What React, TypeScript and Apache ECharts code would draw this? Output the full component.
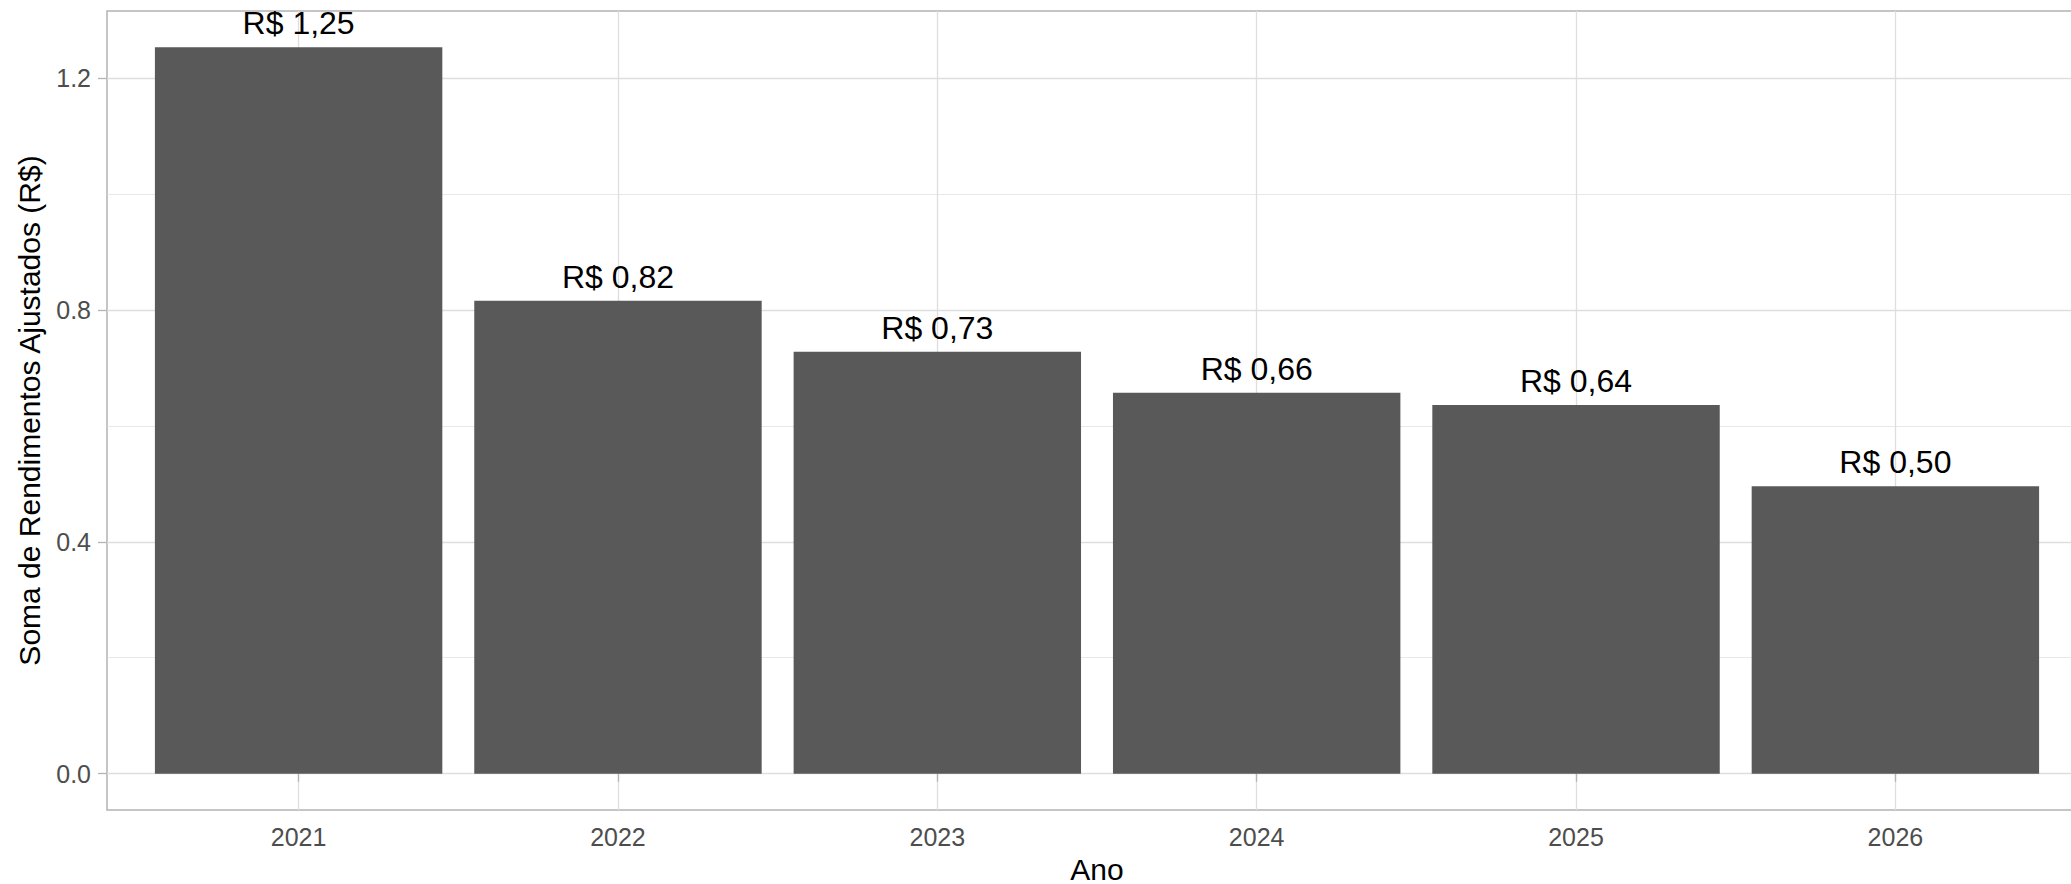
import React, { useEffect, useRef } from "react";
import * as echarts from "echarts";

// Annual sums of adjusted yields (R$)
const anos = ["2021", "2022", "2023", "2024", "2025", "2026"];
const rendimentos = [1.253, 0.816, 0.728, 0.657, 0.636, 0.496];

// Y axis breaks (major and minor grid lines)
const yMajorTicks = [0, 0.4, 0.8, 1.2];
const yMinorTicks = [0.2, 0.6, 1.0];

const FONT = "'Liberation Sans', Arial, Helvetica, sans-serif";

const WIDTH = 2071;
const HEIGHT = 884;

export default function App() {
  const ref = useRef<HTMLDivElement>(null);

  useEffect(() => {
    if (!ref.current) return;
    const chart = echarts.init(ref.current, undefined, { renderer: "svg" });

    // 5% padding of the data range on both ends of the value scale
    const top = Math.max(...rendimentos);
    const yMin = -0.05 * top;
    const yMax = 1.05 * top;

    // Panel box; the discrete axis keeps 0.6 of a band free on each side,
    // so the bar grid is inset by 0.1 band from the panel edges.
    const panelLeft = 107;
    const panelRight = -16;
    const panelTop = 11;
    const panelBottom = 74;
    const panelWidth = WIDTH - panelLeft - panelRight;
    const inset = (panelWidth * 0.1) / (anos.length + 0.2);

    chart.setOption({
      animation: false,
      backgroundColor: "#ffffff",
      textStyle: { fontFamily: FONT },
      grid: [
        {
          left: panelLeft,
          right: panelRight,
          top: panelTop,
          bottom: panelBottom,
          containLabel: false,
          outerBoundsMode: "none",
          show: true,
          borderColor: "#B3B3B3",
          borderWidth: 1.5,
          backgroundColor: "transparent",
        },
        {
          left: panelLeft + inset,
          right: panelRight + inset,
          top: panelTop,
          bottom: panelBottom,
          containLabel: false,
          outerBoundsMode: "none",
        },
      ],
      xAxis: [
        {
          gridIndex: 0,
          type: "value",
          min: 0,
          max: 1,
          show: false,
        },
        {
          gridIndex: 1,
          type: "category",
          data: anos,
          name: "Ano",
          nameLocation: "middle",
          nameGap: 46,
          nameTextStyle: {
            fontSize: 30,
            lineHeight: 26,
            color: "#000000",
            fontFamily: FONT,
          },
          axisLine: { show: false },
          axisTick: {
            show: true,
            alignWithLabel: true,
            length: 8,
            lineStyle: { color: "#B3B3B3", width: 1.3 },
          },
          axisLabel: {
            fontSize: 25,
            color: "#4D4D4D",
            margin: 14,
            fontFamily: FONT,
          },
          splitLine: {
            show: true,
            alignWithLabel: true,
            lineStyle: { color: "#DEDEDE", width: 1.3 },
          },
        },
      ],
      yAxis: [
        {
          gridIndex: 0,
          type: "value",
          min: yMin,
          max: yMax,
          name: "Soma de Rendimentos Ajustados (R$)",
          nameLocation: "middle",
          nameGap: 63,
          nameRotate: 90,
          nameTextStyle: { fontSize: 30, color: "#000000", fontFamily: FONT },
          axisLine: { show: false },
          axisTick: {
            show: true,
            length: 9,
            customValues: yMajorTicks,
            lineStyle: { color: "#B3B3B3", width: 1.3 },
          },
          axisLabel: {
            customValues: yMajorTicks,
            fontSize: 25,
            color: "#4D4D4D",
            margin: 16,
            fontFamily: FONT,
            formatter: (v: number) => v.toFixed(1),
          },
          splitLine: {
            show: true,
            lineStyle: { color: "#DEDEDE", width: 1.3 },
          },
        },
        {
          gridIndex: 0,
          type: "value",
          min: yMin,
          max: yMax,
          position: "left",
          axisLine: { show: false },
          axisTick: { show: false, customValues: yMinorTicks },
          axisLabel: { show: false, customValues: yMinorTicks },
          splitLine: {
            show: true,
            lineStyle: { color: "#DEDEDE", width: 0.7 },
          },
        },
        {
          gridIndex: 1,
          type: "value",
          min: yMin,
          max: yMax,
          show: false,
          splitLine: { show: false },
        },
      ],
      series: [
        {
          type: "bar",
          data: rendimentos,
          xAxisIndex: 1,
          yAxisIndex: 2,
          barWidth: "90%",
          itemStyle: { color: "#595959" },
          label: {
            show: true,
            position: "top",
            distance: 8,
            fontSize: 32,
            color: "#000000",
            fontFamily: FONT,
            formatter: (p: any) => "R$ " + Number(p.value).toFixed(2).replace(".", ","),
          },
        },
      ],
    });

    return () => chart.dispose();
  }, []);

  return (
    <div
      ref={ref}
      style={{
        position: "fixed",
        left: 0,
        top: 0,
        width: WIDTH,
        height: HEIGHT,
        background: "#ffffff",
      }}
    />
  );
}
